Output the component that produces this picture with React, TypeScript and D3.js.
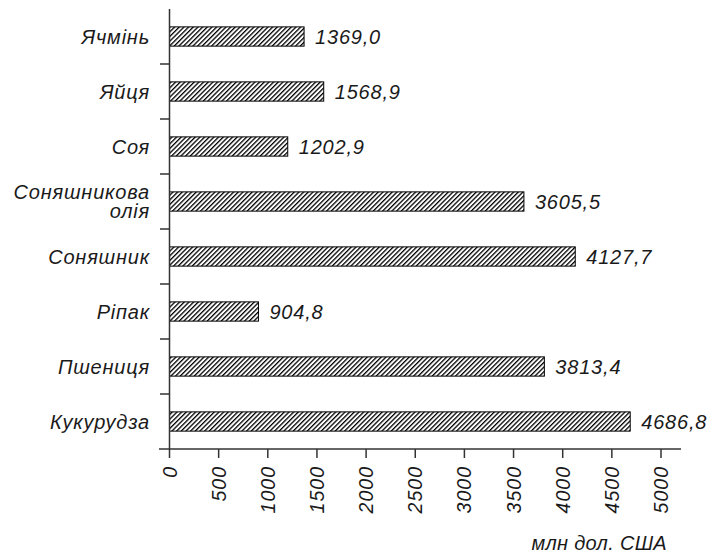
import React, { useEffect, useRef } from 'react';
import * as d3 from 'd3';

const categories = ['Ячмінь', 'Яйця', 'Соя', 'Соняшникова олія', 'Соняшник', 'Ріпак', 'Пшениця', 'Кукурудза'];
const values = [1369.0, 1568.9, 1202.9, 3605.5, 4127.7, 904.8, 3813.4, 4686.8];
const xTicks = [0, 500, 1000, 1500, 2000, 2500, 3000, 3500, 4000, 4500, 5000];
const unitLabel = 'млн дол. США';

const FONT = '"Liberation Sans", Arial, sans-serif';

const App = () => {
  const svgRef = useRef<SVGSVGElement>(null);

  useEffect(() => {
    document.body.style.margin = '0';
    const svg = d3.select(svgRef.current);
    svg.selectAll('*').remove();

    const x = d3.scaleLinear().domain([0, 5000]).range([169.5, 661]);
    const y = d3.scaleBand().domain(categories).range([9, 449]).paddingInner(0.65).paddingOuter(0.325);
    const bandStep = y.step();

    // штрихування
    const defs = svg.append('defs');
    const pat = defs.append('pattern')
      .attr('id', 'hatch')
      .attr('patternUnits', 'userSpaceOnUse')
      .attr('width', 3.3)
      .attr('height', 3.3)
      .attr('patternTransform', 'rotate(45)');
    pat.append('rect').attr('width', 3.3).attr('height', 3.3).attr('fill', '#fff');
    pat.append('line')
      .attr('x1', 0).attr('y1', 0).attr('x2', 0).attr('y2', 3.3)
      .attr('stroke', '#000').attr('stroke-width', 2.6);

    // bars
    svg.append('g').selectAll('rect')
      .data(values)
      .enter().append('rect')
      .attr('x', x(0))
      .attr('y', (d, i) => y(categories[i])!)
      .attr('width', d => x(d) - x(0))
      .attr('height', y.bandwidth())
      .attr('fill', 'url(#hatch)')
      .attr('stroke', '#000')
      .attr('stroke-width', 1);

    // value labels
    svg.append('g').selectAll('text')
      .data(values)
      .enter().append('text')
      .attr('x', d => x(d) + 11)
      .attr('y', (d, i) => y(categories[i])! + y.bandwidth() / 2)
      .attr('dy', '0.36em')
      .attr('font-family', FONT)
      .attr('font-style', 'italic')
      .attr('font-size', 20)
      .attr('letter-spacing', 0.8)
      .attr('fill', '#1a1a1a')
      .text(d => d.toFixed(1).replace('.', ','));

    // y axis
    const axisColor = '#333';
    svg.append('line')
      .attr('x1', x(0)).attr('x2', x(0))
      .attr('y1', 9).attr('y2', 449)
      .attr('stroke', axisColor).attr('stroke-width', 1.5);
    svg.append('g').selectAll('line')
      .data(d3.range(1, categories.length))
      .enter().append('line')
      .attr('x1', 160).attr('x2', x(0))
      .attr('y1', i => 9 + i * bandStep)
      .attr('y2', i => 9 + i * bandStep)
      .attr('stroke', axisColor).attr('stroke-width', 1.5);

    // category labels
    const catG = svg.append('g')
      .attr('font-family', FONT)
      .attr('font-style', 'italic')
      .attr('font-size', 20)
      .attr('letter-spacing', 0.8)
      .attr('fill', '#1a1a1a')
      .attr('text-anchor', 'end');
    categories.forEach(c => {
      const cy = y(c)! + y.bandwidth() / 2;
      const parts = c === 'Соняшникова олія' ? ['Соняшникова', 'олія'] : [c];
      parts.forEach((p, j) => {
        catG.append('text')
          .attr('x', 150)
          .attr('y', cy + (j - (parts.length - 1) / 2) * 19.5)
          .attr('dy', '0.36em')
          .text(p);
      });
    });

    // x axis
    svg.append('line')
      .attr('x1', 159).attr('x2', 681)
      .attr('y1', 449).attr('y2', 449)
      .attr('stroke', axisColor).attr('stroke-width', 1.5);
    const tickG = svg.append('g').selectAll('g')
      .data(xTicks)
      .enter().append('g')
      .attr('transform', d => `translate(${x(d)},449)`);
    tickG.append('line')
      .attr('y1', 0).attr('y2', 9)
      .attr('stroke', axisColor).attr('stroke-width', 1.5);
    tickG.append('text')
      .attr('transform', 'translate(0,17) rotate(-90)')
      .attr('dy', '0.36em')
      .attr('text-anchor', 'end')
      .attr('font-family', FONT)
      .attr('font-style', 'italic')
      .attr('font-size', 19.5)
      .attr('letter-spacing', 1)
      .attr('fill', '#1a1a1a')
      .text(d => String(d));

    svg.append('text')
      .attr('x', 667)
      .attr('y', 550)
      .attr('text-anchor', 'end')
      .attr('font-family', FONT)
      .attr('font-style', 'italic')
      .attr('font-size', 20)
      .attr('letter-spacing', 0.3)
      .attr('fill', '#1a1a1a')
      .text(unitLabel);
  }, []);

  return <svg ref={svgRef} width={721} height={557} style={{ display: 'block', background: '#fff' }} />;
};

export default App;
